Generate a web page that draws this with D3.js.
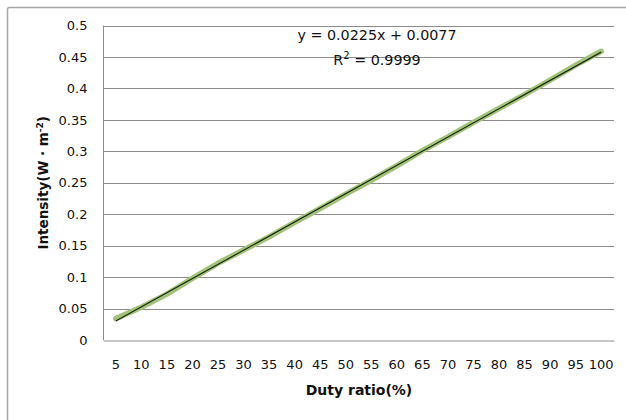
<!DOCTYPE html>
<html>
<head>
<meta charset="utf-8">
<script src="https://cdn.jsdelivr.net/npm/d3@7/dist/d3.min.js"></script>
<style>
  html, body { margin: 0; padding: 0; background: #fff; }
  svg { display: block; }
  text { font-family: "DejaVu Sans", sans-serif; fill: #111; }
</style>
</head>
<body>
<svg id="chart" width="626" height="420"></svg>
<script>
// Duty ratio categories (%) and measured intensity (W·m^-2)
const dutyRatio = [5, 10, 15, 20, 25, 30, 35, 40, 45, 50, 55, 60, 65, 70, 75, 80, 85, 90, 95, 100];
const intensity = [0.034, 0.052, 0.073, 0.098, 0.122, 0.143, 0.164, 0.187, 0.209, 0.232,
                   0.254, 0.277, 0.301, 0.323, 0.346, 0.368, 0.390, 0.413, 0.437, 0.459];
const yTicks = [0, 0.05, 0.1, 0.15, 0.2, 0.25, 0.3, 0.35, 0.4, 0.45, 0.5];
// Linear trendline over the category index (1..n)
const slope = 0.0225;
const intercept = 0.0077;
const r2 = "0.9999";

const svg = d3.select("#chart");
const plot = { left: 103, right: 614, top: 25.5, bottom: 340 };

// Outer chart frame
svg.append("rect")
  .attr("x", 7.5).attr("y", 7.5)
  .attr("width", 640).attr("height", 440)
  .attr("rx", 2)
  .attr("fill", "#fff")
  .attr("stroke", "#a6a6a6").attr("stroke-width", 1.5);

const x = d3.scaleBand().domain(dutyRatio).range([plot.left, plot.right]).padding(0);
const y = d3.scaleLinear().domain([0, 0.5]).range([plot.bottom, plot.top]);
const cx = d => x(d) + x.bandwidth() / 2;

// Horizontal gridlines
svg.append("g")
  .selectAll("line")
  .data(yTicks.slice(1))
  .join("line")
  .attr("x1", plot.left).attr("x2", plot.right)
  .attr("y1", d => Math.round(y(d)) + 0.5).attr("y2", d => Math.round(y(d)) + 0.5)
  .attr("stroke", "#8c8c8c").attr("stroke-width", 1);

// Y axis
const yAxis = svg.append("g")
  .attr("transform", `translate(${plot.left + 0.5},0)`)
  .call(d3.axisLeft(y).tickValues(yTicks).tickSize(0).tickPadding(16).tickFormat(d => String(+d.toFixed(2))));
yAxis.select(".domain").attr("stroke", "#8c8c8c").attr("d", `M0,${plot.top}V${plot.bottom}`);
yAxis.selectAll("text").attr("font-size", 13).attr("font-family", "DejaVu Sans, sans-serif").attr("fill", "#111");

// X axis
const xAxis = svg.append("g")
  .attr("transform", `translate(0,${plot.bottom + 0.5})`)
  .call(d3.axisBottom(x).tickSize(0).tickPadding(19));
xAxis.select(".domain").attr("stroke", "#8c8c8c");
xAxis.selectAll("text").attr("font-size", 13).attr("font-family", "DejaVu Sans, sans-serif").attr("fill", "#111");

// Data series
const line = d3.line().x((d, i) => cx(dutyRatio[i])).y(d => y(d));
svg.append("path")
  .datum(intensity)
  .attr("d", line)
  .attr("fill", "none")
  .attr("stroke", "#a3c27a")
  .attr("stroke-width", 5.5)
  .attr("stroke-linecap", "round").attr("stroke-linejoin", "round");

// Trendline y = slope * index + intercept
const first = 1, last = dutyRatio.length;
svg.append("line")
  .attr("x1", cx(dutyRatio[first - 1])).attr("y1", y(slope * first + intercept))
  .attr("x2", cx(dutyRatio[last - 1])).attr("y2", y(slope * last + intercept))
  .attr("stroke", "#1c2a10").attr("stroke-width", 1.2);

// Trendline equation
svg.append("text")
  .attr("x", 377).attr("y", 40)
  .attr("text-anchor", "middle").attr("font-size", 14.3)
  .text(`y = ${slope}x + ${intercept}`);
const rt = svg.append("text")
  .attr("x", 377).attr("y", 65)
  .attr("text-anchor", "middle").attr("font-size", 14.3);
rt.append("tspan").text("R");
rt.append("tspan").attr("dy", -6).attr("font-size", 10).text("2");
rt.append("tspan").attr("dy", 6).text(` = ${r2}`);

// Axis titles
svg.append("text")
  .attr("x", (plot.left + plot.right) / 2 + 0.5).attr("y", 395)
  .attr("text-anchor", "middle").attr("font-size", 14).attr("font-weight", "bold")
  .text("Duty ratio(%)");

const yt = svg.append("text")
  .attr("transform", `translate(48,${(plot.top + plot.bottom) / 2}) rotate(-90)`)
  .attr("text-anchor", "middle").attr("font-size", 13.5).attr("font-weight", "bold");
yt.append("tspan").text("Intensity(W · m");
yt.append("tspan").attr("dy", -5).attr("font-size", 9).text("-2");
yt.append("tspan").attr("dy", 5).text(")");
</script>
</body>
</html>
